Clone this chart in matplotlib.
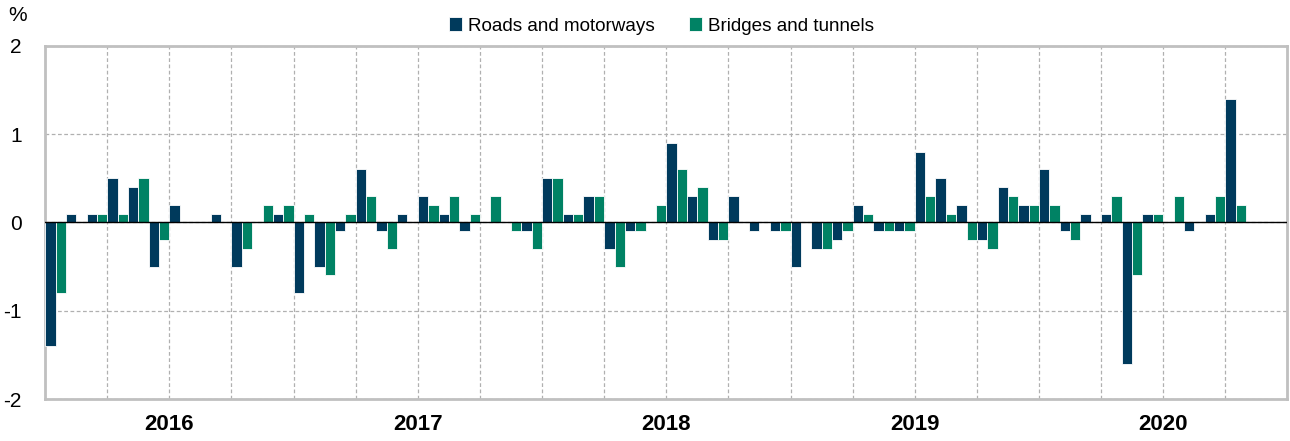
import matplotlib
matplotlib.use("Agg")
import matplotlib.pyplot as plt
import numpy as np

# monthly % change, Jan 2016 .. Oct 2020
roads = [-1.4, 0.1, 0.1, 0.5, 0.4, -0.5, 0.2, 0.0, 0.1, -0.5, 0.0, 0.1,
         -0.8, -0.5, -0.1, 0.6, -0.1, 0.1, 0.3, 0.1, -0.1, 0.0, 0.0, -0.1,
         0.5, 0.1, 0.3, -0.3, -0.1, 0.0, 0.9, 0.3, -0.2, 0.3, -0.1, -0.1,
         -0.5, -0.3, -0.2, 0.2, -0.1, -0.1, 0.8, 0.5, 0.2, -0.2, 0.4, 0.2,
         0.6, -0.1, 0.1, 0.1, -1.6, 0.1, 0.0, -0.1, 0.1, 1.4]
bridges = [-0.8, 0.0, 0.1, 0.1, 0.5, -0.2, 0.0, 0.0, 0.0, -0.3, 0.2, 0.2,
           0.1, -0.6, 0.1, 0.3, -0.3, 0.0, 0.2, 0.3, 0.1, 0.3, -0.1, -0.3,
           0.5, 0.1, 0.3, -0.5, -0.1, 0.2, 0.6, 0.4, -0.2, 0.0, 0.0, -0.1,
           0.0, -0.3, -0.1, 0.1, -0.1, -0.1, 0.3, 0.1, -0.2, -0.3, 0.3, 0.2,
           0.2, -0.2, 0.0, 0.3, -0.6, 0.1, 0.3, 0.0, 0.3, 0.2]
years = ["2016", "2017", "2018", "2019", "2020"]
series_names = ["Roads and motorways", "Bridges and tunnels"]

NAVY = "#003a5c"
GREEN = "#008264"

plt.rcParams["font.family"] = ["Liberation Sans", "DejaVu Sans"]

fig = plt.figure(figsize=(12.9, 4.41), dpi=100)
ax = fig.add_axes([0.035, 0.095, 0.963, 0.801])

x = np.arange(len(roads))
w = 0.5
ax.bar(x + 0.25, roads, width=w, color=NAVY, edgecolor="white", linewidth=0.6,
       label=series_names[0], zorder=3)
ax.bar(x + 0.75, bridges, width=w, color=GREEN, edgecolor="white", linewidth=0.6,
       label=series_names[1], zorder=3)

ax.axhline(0, color="black", lw=1.0, zorder=4)

n_months = 12 * len(years)
ax.set_xlim(0, n_months)
ax.set_ylim(-2, 2)
ax.set_yticks([-2, -1, 0, 1, 2])
ax.set_yticklabels(["-2", "-1", "0", "1", "2"])
ax.tick_params(axis="y", length=0, labelsize=15, pad=17)

# year labels centred in each year, quarterly vertical grid
ax.set_xticks(np.arange(len(years)) * 12 + 6)
ax.set_xticklabels(years, fontsize=16, fontweight="bold")
ax.tick_params(axis="x", length=0, pad=11)
for q in range(3, n_months, 3):
    ax.axvline(q, color="#b0b0b0", ls=(0, (3, 2)), lw=0.9, zorder=0)
ax.grid(True, axis="y", color="#b0b0b0", ls=(0, (3, 2)), lw=0.9, zorder=0)

for s in ax.spines.values():
    s.set_color("#c0c0c0")
    s.set_linewidth(2)

ax.text(-0.0225, 1.085, "%", transform=ax.transAxes, fontsize=15, ha="center", va="center")

ax.legend(loc="lower center", bbox_to_anchor=(0.496, 1.0), ncol=2, frameon=False,
          fontsize=13.6, handlelength=0.7, handleheight=0.7, handletextpad=0.3,
          columnspacing=1.8, borderaxespad=0.2)

fig.savefig("out.png", dpi=100)
